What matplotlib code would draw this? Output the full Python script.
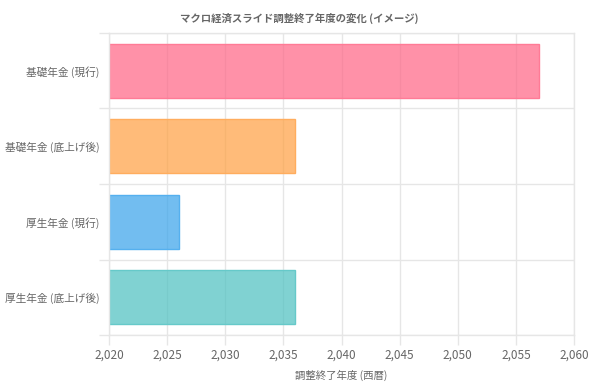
import matplotlib.pyplot as plt
import numpy as np
from matplotlib.ticker import FuncFormatter, FixedLocator

plt.rcParams['font.family'] = ['Noto Sans CJK JP', 'DejaVu Sans']

categories = ["基礎年金 (現行)", "基礎年金 (底上げ後)", "厚生年金 (現行)", "厚生年金 (底上げ後)"]
end_years = [2057, 2036, 2026, 2036]
base_year = 2020
x_ticks = list(range(2020, 2061, 5))

fill_colors = [(1.0, 0.388, 0.518, 0.7), (1.0, 0.624, 0.251, 0.7),
               (0.212, 0.635, 0.922, 0.7), (0.294, 0.753, 0.753, 0.7)]
edge_colors = ["#ff7b96", "#ffad5e", "#55b0ef", "#66c9c9"]

grid_c = "#e6e6e6"
text_c = "#666666"


def main():
    fig = plt.figure(figsize=(5.99, 3.85), dpi=100)
    ax = fig.add_axes([109 / 599, 1 - 335 / 385, 465 / 599, 302 / 385])

    y = np.arange(len(categories))
    widths = [e - base_year for e in end_years]
    ax.barh(y, widths, left=base_year, height=0.72, color=fill_colors,
            edgecolor=edge_colors, linewidth=1, zorder=2)

    ax.set_xlim(2020, 2060)
    ax.set_ylim(len(categories) - 0.5, -0.5)

    ax.set_xticks(x_ticks)
    ax.xaxis.set_major_formatter(FuncFormatter(lambda v, p: f"{v:,.0f}"))
    ax.set_yticks(y, categories)
    ax.yaxis.set_minor_locator(FixedLocator(np.arange(-0.5, len(categories), 1)))

    ax.grid(True, axis="x", color=grid_c, linewidth=1, zorder=0)
    ax.grid(True, axis="y", which="minor", color=grid_c, linewidth=1, zorder=0)
    ax.set_axisbelow(True)

    ax.tick_params(axis="x", color=grid_c, labelcolor=text_c, labelsize=8.5, length=7, width=1, pad=3)
    ax.tick_params(axis="y", which="major", length=0, labelcolor=text_c, labelsize=7.7, pad=7)
    ax.tick_params(axis="y", which="minor", length=7, color=grid_c, width=1)

    for s in ax.spines.values():
        s.set_color(grid_c)
        s.set_linewidth(1)

    ax.set_xlabel("調整終了年度 (西暦)", color=text_c, fontsize=7.5, labelpad=6)
    fig.text(0.5, 1 - 18 / 385, "マクロ経済スライド調整終了年度の変化 (イメージ)",
             ha="center", va="center", fontsize=7.5, fontweight="bold", color=text_c)

    fig.savefig("out.png", dpi=100)


if __name__ == "__main__":
    main()
